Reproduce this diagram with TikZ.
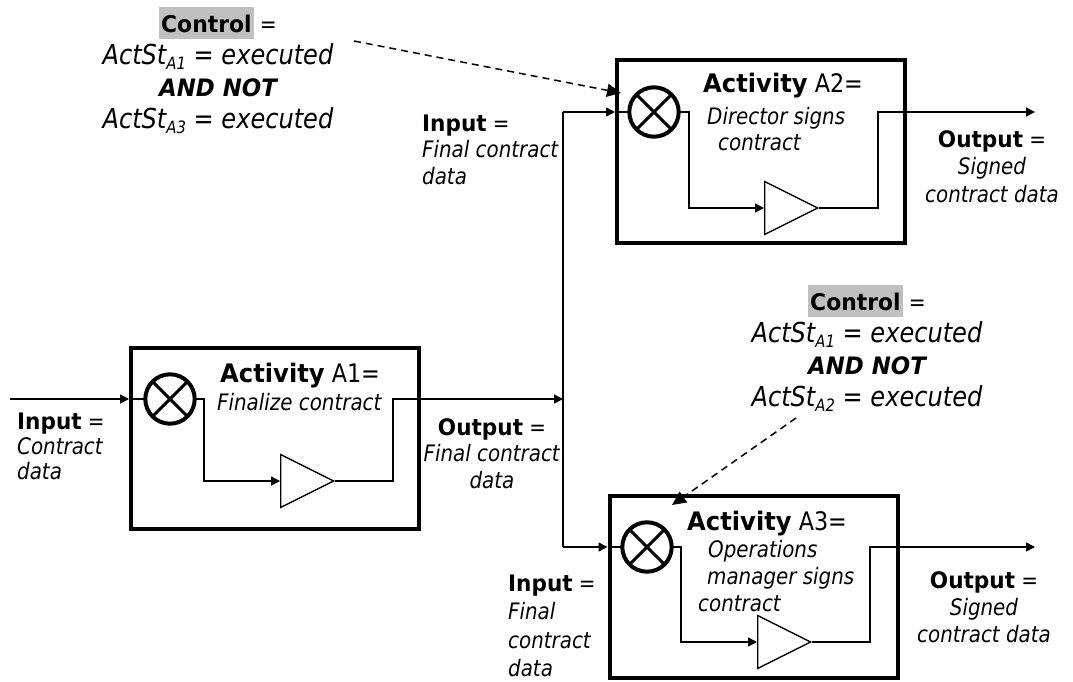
\documentclass[tikz,border=0pt]{standalone}
\usepackage{fontspec}
\setmainfont{DejaVu Sans}[FakeStretch=0.875]
\newfontfamily\headfont{DejaVu Sans}[FakeStretch=0.95]
\usepackage{xcolor}
\usepackage{tikz}
\usetikzlibrary{shapes.geometric, arrows.meta}

\definecolor{hlgray}{RGB}{192,192,192}
\newcommand{\kw}[1]{{\headfont\bfseries #1}}
\newcommand{\actsub}[1]{\raisebox{-5pt}{\fontsize{17}{17}\selectfont #1}}
\newcommand{\hlbox}[1]{{\setlength{\fboxsep}{0pt}\colorbox{hlgray}{\rule[-7pt]{0pt}{32pt}\hspace{2pt}#1\hspace{2pt}}}}
\newcommand{\tp}{\rule{0pt}{20pt}}

\begin{document}
\begin{tikzpicture}[
    x=1pt, y=-1pt,
    activity/.style={rectangle, draw, line width=4.2pt, minimum width=288pt, anchor=north west, inner sep=0pt},
    joint/.style={circle, draw, line width=4pt, minimum size=49.4pt, inner sep=0pt, outer sep=0pt},
    gain/.style={isosceles triangle, isosceles triangle stretches, draw, line width=1.3pt, minimum width=53pt, minimum height=53pt, inner sep=0pt, anchor=west},
    cross/.style={line width=3pt},
    wire/.style={line width=1.4pt},
    flow/.style={wire, -{Triangle[length=9pt, width=9pt]}},
    control/.style={line width=1.5pt, dash pattern=on 7pt off 5pt, -{Triangle[length=14pt, width=13pt]}},
    note/.style={inner sep=0pt, font=\fontsize{22.7}{26}\selectfont},
    title/.style={note, anchor=base west, font=\fontsize{25.5}{28}\selectfont}
]
\useasboundingbox (0,0) rectangle (1073,682);

% Activities
\node[activity, minimum height=181pt] (Act1) at (129,346) {};
\node[activity, minimum height=183pt] (Act2) at (615,58) {};
\node[activity, minimum height=182pt] (Act3) at (607.5,494) {};

% Joins
\node[joint] (Join1) at (170,399) {};
\node[joint] (Join2) at (654,112) {};
\node[joint] (Join3) at (647,547) {};
\foreach \j in {Join1,Join2,Join3}{
    \draw[cross] (\j.north west) -- (\j.south east) (\j.north east) -- (\j.south west);
}

% Gains
\node[gain] (Gain1) at (280,481) {};
\node[gain] (Gain2) at (764,208) {};
\node[gain] (Gain3) at (757,642) {};

% Route points
\coordinate (In1) at (10,399);
\coordinate (Dn1) at (204,481);
\coordinate (Up1) at (393,399);
\coordinate (Split) at (563,399);
\coordinate (SplitTop) at (563,112);
\coordinate (SplitBot) at (563,547);
\coordinate (Dn2) at (689,208);
\coordinate (Up2) at (878,112);
\coordinate (Out2) at (1035,112);
\coordinate (Dn3) at (681,642);
\coordinate (Up3) at (870,547);
\coordinate (Out3) at (1035,547);
\coordinate (Ctl1Start) at (354,41);
\coordinate (Ctl1Tip) at (621,93);
\coordinate (Ctl2Start) at (796,418);
\coordinate (Ctl2Tip) at (672,505);

% Flows A1
\draw[flow] (In1) -- (Act1.west |- Join1);
\draw[wire] (Act1.west |- Join1) -- (Join1.west);
\draw[flow] (Join1.east) -| (Dn1) -- (Gain1.west);
\draw[flow] (Gain1.apex) -| (Up1) -- (Split);

% Split
\draw[wire] (SplitTop) -- (SplitBot);
\draw[flow] (SplitTop) -- (Act2.west |- Join2);
\draw[flow] (SplitBot) -- (Act3.west |- Join3);

% Flows A2
\draw[wire] (Act2.west |- Join2) -- (Join2.west);
\draw[flow] (Join2.east) -| (Dn2) -- (Gain2.west);
\draw[flow] (Gain2.apex) -| (Up2) -- (Out2);

% Flows A3
\draw[wire] (Act3.west |- Join3) -- (Join3.west);
\draw[flow] (Join3.east) -| (Dn3) -- (Gain3.west);
\draw[flow] (Gain3.apex) -| (Up3) -- (Out3);

% Activity texts
\node[title] (Title1) at (220,382) {\kw{Activity} A1=};
\node[note, anchor=base west] (Desc1) at (217,410) {\textit{Finalize contract}};
\node[title] (Title2) at (703,93) {\kw{Activity} A2=};
\node[note, anchor=north west, align=left] (Desc2) at (707,104) {\tp\textit{Director signs}\\\hspace*{11pt}\textit{contract}};
\node[title] (Title3) at (687,530) {\kw{Activity} A3=};
\node[note, anchor=north west, align=left, font=\fontsize{22.7}{27.3}\selectfont] (Desc3) at (698,537) {\tp\hspace*{10pt}\textit{Operations}\\\hspace*{9pt}\textit{manager signs}\\\textit{contract}};

% Inputs and outputs
\node[note, anchor=north west, align=left, font=\fontsize{22.7}{25}\selectfont] (InLabel1) at (17,409) {\tp\kw{Input} =\\\textit{Contract}\\\textit{data}};
\node[note, anchor=north, align=center, font=\fontsize{22.7}{26.7}\selectfont] (OutLabel1) at (492,415) {\tp\kw{Output} =\\\textit{Final contract}\\\textit{data}};
\node[note, anchor=north west, align=left, font=\fontsize{22.7}{26.5}\selectfont] (InLabel2) at (422,111) {\tp\kw{Input} =\\\textit{Final contract}\\\textit{data}};
\node[note, anchor=north, align=center, font=\fontsize{22.7}{27.5}\selectfont] (OutLabel2) at (992,127) {\tp\kw{Output} =\\\textit{Signed}\\\textit{contract data}};
\node[note, anchor=north west, align=left, font=\fontsize{22.7}{28.5}\selectfont] (InLabel3) at (508,571) {\tp\kw{Input} =\\\textit{Final}\\\textit{contract}\\\textit{data}};
\node[note, anchor=north, align=center, font=\fontsize{22.7}{27}\selectfont] (OutLabel3) at (984,568) {\tp\kw{Output} =\\\textit{Signed}\\\textit{contract data}};

% Controls
\node[note, anchor=north, align=center, font=\fontsize{27.5}{32}\selectfont] (Ctl1) at (218,7) {{\fontsize{23}{32}\selectfont\hlbox{\kw{Control}} =}\\\textit{ActSt\actsub{A1} = executed}\\{\fontsize{24}{32}\selectfont\kw{\itshape AND NOT}}\\\textit{ActSt\actsub{A3} = executed}};
\node[note, anchor=north, align=center, font=\fontsize{27.5}{32}\selectfont] (Ctl2) at (867,285) {{\fontsize{23}{32}\selectfont\hlbox{\kw{Control}} =}\\\textit{ActSt\actsub{A1} = executed}\\{\fontsize{24}{32}\selectfont\kw{\itshape AND NOT}}\\\textit{ActSt\actsub{A2} = executed}};

\draw[control] (Ctl1Start) -- (Ctl1Tip);
\draw[control] (Ctl2Start) -- (Ctl2Tip);

\end{tikzpicture}
\end{document}
